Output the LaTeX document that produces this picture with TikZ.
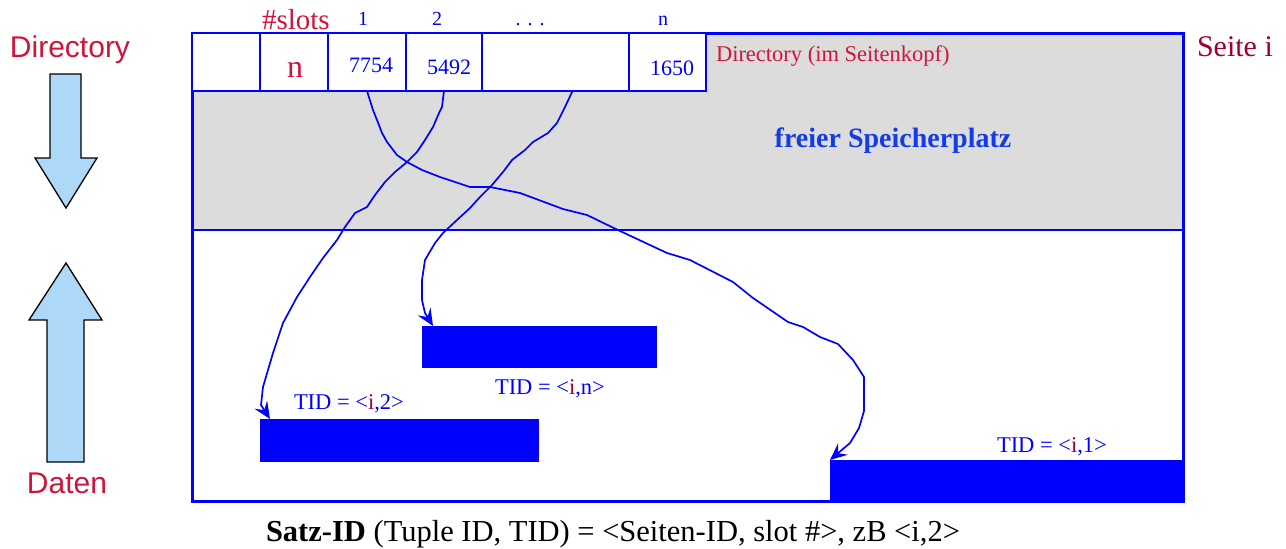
\documentclass[tikz,border=0pt]{standalone}
\usepackage{fontspec}
\setmainfont{Liberation Serif}
\newfontfamily\arialfont{Liberation Sans}
\usetikzlibrary{arrows.meta}
\definecolor{pgblue}{RGB}{0,0,255}
\definecolor{lblred}{RGB}{208,20,58}
\definecolor{darkred}{RGB}{160,0,45}
\definecolor{freegray}{RGB}{220,220,220}
\definecolor{arrowfill}{RGB}{173,216,248}
\definecolor{boldblue}{RGB}{20,60,230}
\begin{document}
\begin{tikzpicture}[x=1pt,y=-1pt,
  every node/.style={inner sep=0pt, outer sep=0pt},
  fs/.style={font=\fontsize{#1}{#1}\selectfont},
  cell/.style={draw=pgblue, line width=2pt, fill=white, minimum height=58pt},
  record/.style={fill=pgblue, draw=pgblue, line width=0.5pt},
  conn/.style={draw=pgblue, line width=1.7pt, line join=round,
    -{Stealth[length=17pt,width=15pt,inset=6.5pt]}},
  bigarrow/.style={draw=black, line width=1.3pt, fill=arrowfill, line join=miter},
  celltext/.style={text=pgblue, anchor=base},
]
\useasboundingbox (0,0) rectangle (1286,549);

% left: growth directions of directory and data
\node[font=\arialfont\fontsize{30}{30}\selectfont, text=lblred, anchor=base] (dirlbl) at (70,57) {Directory};
\node[font=\arialfont\fontsize{30}{30}\selectfont, text=lblred, anchor=base] (datlbl) at (67,493) {Daten};
\draw[bigarrow] (50,74) -- (81,74) -- (81,158) -- (97,158) -- (66,208) -- (35,158) -- (50,158) -- cycle;
\draw[bigarrow] (66,263) -- (102,320) -- (84,320) -- (84,462) -- (47,462) -- (47,320) -- (29,320) -- cycle;

% page: free space and frame
\node[fill=freegray, minimum width=991pt, minimum height=197pt] (free) at (687.5,131.5) {};
\node[draw=pgblue, line width=3pt, minimum width=991pt, minimum height=468pt] (page) at (687.5,267) {};
\draw[pgblue, line width=2pt] (free.south west) -- (free.south east);

% slot directory in the page header
\node[cell, minimum width=68pt] (c0) at (226,62) {};
\node[cell, minimum width=68pt] (cn) at (294,62) {};
\node[cell, minimum width=78pt] (c1) at (367,62) {};
\node[cell, minimum width=76pt] (c2) at (444,62) {};
\node[cell, minimum width=147pt] (cdots) at (555.5,62) {};
\node[cell, minimum width=77pt] (clast) at (667.5,62) {};

\node[fs=32, text=lblred, anchor=base] (nval) at (295,77) {n};
\node[celltext, fs=22] (v1) at (371,72) {7754};
\node[celltext, fs=22] (v2) at (449,74) {5492};
\node[celltext, fs=22] (vn) at (672,75) {1650};

\node[fs=29, text=lblred, anchor=base west] (slotslbl) at (262,29) {\#slots};
\node[fs=20, text=pgblue, anchor=base] (i1) at (363,25) {1};
\node[fs=20, text=pgblue, anchor=base] (i2) at (437,25) {2};
\node[fs=20, text=pgblue, anchor=base] (idots) at (530,25) {.\hspace{0.35em}.\hspace{0.35em}.};
\node[fs=20, text=pgblue, anchor=base] (in) at (663,25) {n};

\node[fs=22.5, text=lblred, anchor=base west] (dirhead) at (716,61) {Directory (im Seitenkopf)};
\node[font={\fontsize{28}{28}\selectfont\bfseries}, text=boldblue, anchor=base] (freelbl) at (893,147) {freier Speicherplatz};
\node[fs=30, text=darkred, anchor=base west] (seite) at (1197,56) {Seite i};

% records
\node[record, minimum width=234pt, minimum height=41pt] (rn) at (539,346.5) {};
\node[record, minimum width=278pt, minimum height=42pt] (r2) at (399,440) {};
\node[record, minimum width=353pt, minimum height=41pt] (r1) at (1006.5,480.5) {};

\node[fs=22.5, text=pgblue, anchor=base west] (tidn) at (495,394) {TID = <{\color{darkred}i},n>};
\node[fs=22.5, text=pgblue, anchor=base west] (tid2) at (294,409) {TID = <{\color{darkred}i},2>};
\node[fs=22.5, text=pgblue, anchor=base west] (tid1) at (997,452) {TID = <{\color{darkred}i},1>};

% slot pointers
\draw[conn] (c1.south) -- (373,110) -- (377,120) -- (382,133) -- (387,142) -- (397,155)
  -- (407,162) -- (422,170) -- (440,177) -- (470,187) -- (490,187) -- (520,193)
  -- (563,209) -- (587,215) -- (620,231) -- (667,253) -- (690,260) -- (733,282)
  -- (753,298) -- (788,322) -- (803,327) -- (820,337) -- (838,344) -- (853,360)
  -- (864,377) -- (864,411) -- (859,428) -- (850,443) -- (r1.north west);
\draw[conn] (c2.south) -- (442,107) -- (439,113) -- (433,127) -- (425,140) -- (417,152)
  -- (407,162) -- (395,172) -- (385,182) -- (375,195) -- (367,207) -- (355,213)
  -- (345,227) -- (337,240) -- (323,258) -- (310,277) -- (297,297) -- (283,323)
  -- (273,353) -- (263,387) -- (261,405) -- ([xshift=10pt]r2.north west);
\draw[conn] ([xshift=17pt]cdots.south) -- (565,107) -- (557,123) -- (548,133) -- (533,142)
  -- (525,150) -- (512,160) -- (503,172) -- (492,185) -- (480,197) -- (470,208)
  -- (457,220) -- (443,233) -- (435,243) -- (425,260) -- (422,280) -- (422,300)
  -- (425,313) -- ([xshift=11pt]rn.north west);

% caption
\node[fs=30.5, anchor=base] (caption) at (613,541) {\textbf{Satz-ID} (Tuple ID, TID) = <Seiten-ID, slot \#>, zB <i,2>};
\end{tikzpicture}
\end{document}
